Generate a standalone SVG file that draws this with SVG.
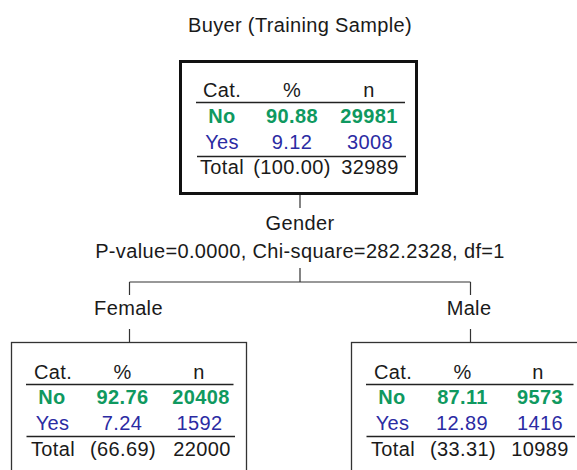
<svg xmlns="http://www.w3.org/2000/svg" width="577" height="470" viewBox="0 0 577 470">
<style>
text{font-family:"Liberation Sans",Arial,sans-serif;font-size:20px;letter-spacing:0.35px;fill:#1a1a1a;text-anchor:middle}
.no{fill:#0f9960;font-weight:bold}
.yes{fill:#2b2ba3}
.rule{stroke:#222;stroke-width:1.5}
.conn{stroke:#333;stroke-width:1.2;fill:none}
.child{fill:#fff;stroke:#333;stroke-width:1.3}
.root{fill:#fff;stroke:#111;stroke-width:3}
</style>
<rect width="577" height="470" fill="#fff"/>
<text x="300" y="32">Buyer (Training Sample)</text>

<g id="connectors">
<path class="conn" d="M300,195V208M300,268V282M129.5,282H470.5M129.5,282V295M470.5,282V295M129.5,329V342M470.5,329V342"/>
</g>

<g id="split-labels">
<text x="300" y="230">Gender</text>
<text x="300" y="258">P-value=0.0000, Chi-square=282.2328, df=1</text>
<text x="128.5" y="315">Female</text>
<text x="469" y="315">Male</text>
</g>

<g id="node-root">
<rect class="root" x="180.5" y="61.5" width="236" height="132"/>
<text x="222" y="97">Cat.</text><text x="292" y="97">%</text><text x="369" y="97">n</text>
<line class="rule" x1="196" y1="102.5" x2="405" y2="102.5"/>
<text class="no" x="222" y="123">No</text><text class="no" x="292" y="123">90.88</text><text class="no" x="369" y="123">29981</text>
<text class="yes" x="222" y="149">Yes</text><text class="yes" x="292" y="149">9.12</text><text class="yes" x="370" y="149">3008</text>
<line class="rule" x1="197" y1="156.5" x2="406" y2="156.5"/>
<text x="222" y="173.5">Total</text><text x="292" y="173.5">(100.00)</text><text x="370" y="173.5">32989</text>
</g>

<g id="node-female">
<rect class="child" x="11.5" y="342.5" width="235" height="150"/>
<text x="53" y="378.5">Cat.</text><text x="122.5" y="378.5">%</text><text x="199" y="378.5">n</text>
<line class="rule" x1="26" y1="384.5" x2="233.5" y2="384.5"/>
<text class="no" x="52" y="404">No</text><text class="no" x="122.5" y="404">92.76</text><text class="no" x="201" y="404">20408</text>
<text class="yes" x="52.5" y="429.5">Yes</text><text class="yes" x="122" y="429.5">7.24</text><text class="yes" x="199.5" y="429.5">1592</text>
<line class="rule" x1="26.5" y1="436.5" x2="235" y2="436.5"/>
<text x="53" y="456">Total</text><text x="123" y="456">(66.69)</text><text x="202" y="456">22000</text>
</g>

<g id="node-male">
<rect class="child" x="351.5" y="342.5" width="235" height="150"/>
<text x="393" y="378.5">Cat.</text><text x="462.5" y="378.5">%</text><text x="538" y="378.5">n</text>
<line class="rule" x1="366" y1="384.5" x2="573.5" y2="384.5"/>
<text class="no" x="392" y="404">No</text><text class="no" x="462.5" y="404">87.11</text><text class="no" x="540" y="404">9573</text>
<text class="yes" x="392.5" y="429.5">Yes</text><text class="yes" x="462" y="429.5">12.89</text><text class="yes" x="540" y="429.5">1416</text>
<line class="rule" x1="366.5" y1="436.5" x2="575" y2="436.5"/>
<text x="393" y="456">Total</text><text x="463" y="456">(33.31)</text><text x="540" y="456">10989</text>
</g>
</svg>
